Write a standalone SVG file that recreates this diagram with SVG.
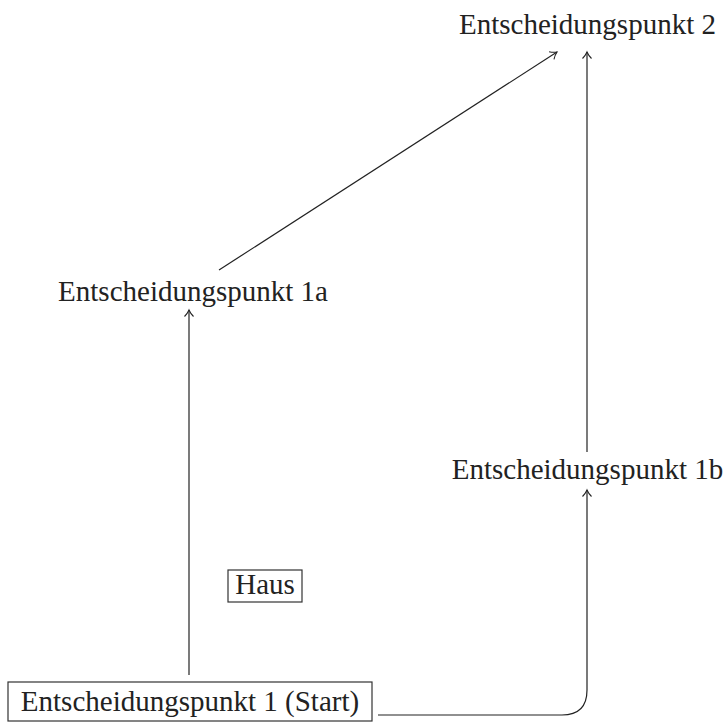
<svg xmlns="http://www.w3.org/2000/svg" width="728" height="722" viewBox="0 0 728 722">
<defs>
<style>
.t{font-family:"Liberation Serif","Times New Roman",serif;font-size:29px;fill:#222;text-anchor:middle}
.c{fill:none;stroke:#222;stroke-width:1.2}
.b{fill:#fff;stroke:#333;stroke-width:1.2}
</style>
<marker id="ah" markerWidth="14" markerHeight="14" refX="10" refY="7" orient="auto" markerUnits="userSpaceOnUse">
<path d="M3.5 2.5 Q6.5 5.5 10 7 Q6.5 8.5 3.5 11.5" fill="none" stroke="#222" stroke-width="1.1"/>
</marker>
</defs>
<rect width="728" height="722" fill="#fff"/>
<g id="connectors">
<path class="c" d="M189 675 V310" marker-end="url(#ah)"/>
<path class="c" d="M219 270 L557 52" marker-end="url(#ah)"/>
<path class="c" d="M587 452 V52" marker-end="url(#ah)"/>
<path class="c" d="M378 715 H562 Q587 715 587 690 V490" marker-end="url(#ah)"/>
</g>
<g id="n2"><text class="t" x="587.5" y="34">Entscheidungspunkt 2</text></g>
<g id="n1a"><text class="t" x="193" y="301">Entscheidungspunkt 1a</text></g>
<g id="n1b"><text class="t" x="587.5" y="479">Entscheidungspunkt 1b</text></g>
<g id="haus"><rect class="b" x="228" y="570" width="74" height="32"/><text class="t" x="265" y="594">Haus</text></g>
<g id="n1"><rect class="b" x="8" y="682" width="364" height="39"/><text class="t" x="190" y="711">Entscheidungspunkt 1 (Start)</text></g>
</svg>
